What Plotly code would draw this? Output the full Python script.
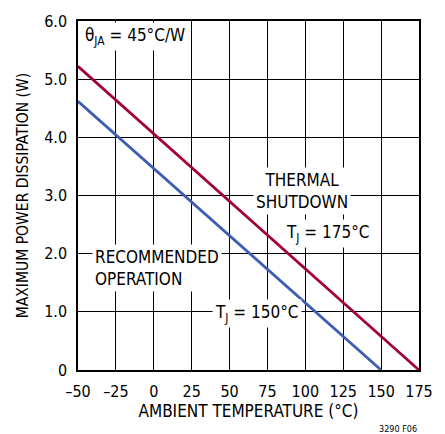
import plotly.graph_objects as go

# Data
ambient_175 = [-50, 175]
power_175 = [5.22, 0.0]
ambient_150 = [-50, 150]
power_150 = [4.62, 0.0]
x_ticks = [-50, -25, 0, 25, 50, 75, 100, 125, 150, 175]
x_tick_labels = ["–50", "–25", "0", "25", "50", "75", "100", "125", "150", "175"]
y_ticks = [0, 1, 2, 3, 4, 5, 6]
y_tick_labels = ["0", "1.0", "2.0", "3.0", "4.0", "5.0", "6.0"]

FONT = "DejaVu Sans Condensed"
RED = "#a3003a"
BLUE = "#3d5db3"

fig = go.Figure()
fig.add_trace(go.Scatter(x=ambient_175, y=power_175, mode="lines",
                         line=dict(color=RED, width=2.8), showlegend=False))
fig.add_trace(go.Scatter(x=ambient_150, y=power_150, mode="lines",
                         line=dict(color=BLUE, width=2.8), showlegend=False))

ann_font = dict(family=FONT, size=17, color="black")
annotations = [
    dict(x=-47.5, y=5.73, text="θ<sub>JA</sub> = 45°C/W", xanchor="left", yanchor="middle"),
    dict(x=98, y=3.08, text="THERMAL<br>SHUTDOWN", xanchor="center", yanchor="middle", align="center"),
    dict(x=115, y=2.35, text="T<sub>J</sub> = 175°C", xanchor="center", yanchor="middle"),
    dict(x=-40.5, y=1.75, text="RECOMMENDED<br>OPERATION", xanchor="left", yanchor="middle", align="left"),
    dict(x=68, y=0.97, text="T<sub>J</sub> = 150°C", xanchor="center", yanchor="middle"),
]
for a in annotations:
    fig.add_annotation(**a, showarrow=False, font=ann_font, bgcolor="white",
                       borderpad=2, xref="x", yref="y")

fig.add_annotation(x=1.0, y=-0.15, xref="paper", yref="paper", text="3290 F06",
                   showarrow=False, xanchor="right", yanchor="top",
                   font=dict(family=FONT, size=9, color="black"))

axis_common = dict(showline=True, linecolor="black", linewidth=1.5, mirror=True,
                   showgrid=True, gridcolor="black", gridwidth=1, zeroline=False,
                   ticks="outside", ticklen=6, tickcolor="white",
                   tickfont=dict(family=FONT, size=16, color="black"))

fig.update_xaxes(range=[-50, 175], tickvals=x_ticks, ticktext=x_tick_labels,
                 title_text="AMBIENT TEMPERATURE (°C)", title_standoff=2,
                 title_font=dict(family=FONT, size=17, color="black"), **axis_common)
fig.update_yaxes(range=[0, 6], tickvals=y_ticks, ticktext=y_tick_labels,
                 title_text="MAXIMUM POWER DISSIPATION (W)", title_standoff=12,
                 title_font=dict(family=FONT, size=15.5, color="black"), **axis_common)

fig.update_layout(width=445, height=434, margin=dict(l=78, r=15, t=17, b=64),
                  plot_bgcolor="white", paper_bgcolor="white",
                  font=dict(family=FONT, color="black"))

fig.write_html("out.html")
